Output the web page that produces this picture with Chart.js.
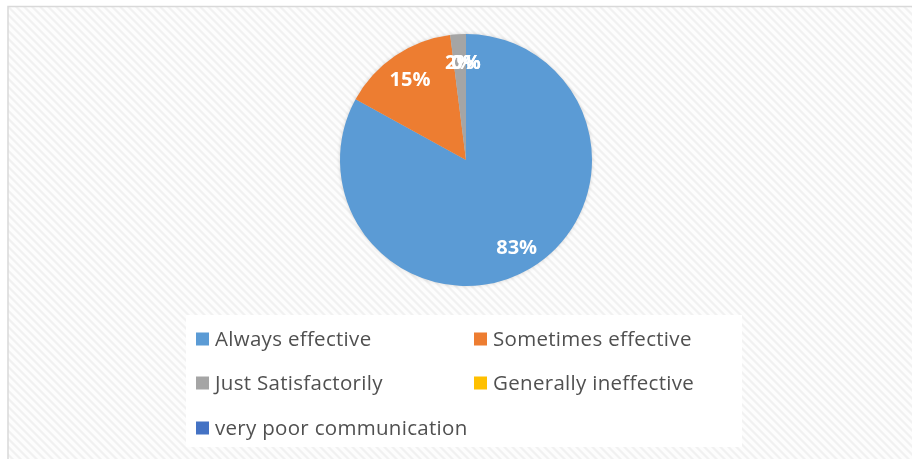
<!DOCTYPE html>
<html><head><meta charset="utf-8">
<script src="https://cdn.jsdelivr.net/npm/chart.js@4.4.0/dist/chart.umd.min.js"></script>
<style>html,body{margin:0;padding:0;background:#fff;overflow:hidden}#wrap{width:912px;height:459px;position:relative}</style>
</head><body><div id="wrap"><canvas id="c" width="912" height="459"></canvas></div>
<script>
const categories = ['Always effective', 'Sometimes effective', 'Just Satisfactorily', 'Generally ineffective', 'very poor communication'];
const values = [83, 15, 2, 0, 0];
const colors = ['#5B9BD5', '#ED7D31', '#A5A5A5', '#FFC000', '#4472C4'];

function makePattern(ctx) {
  const p = document.createElement('canvas');
  p.width = 8; p.height = 8;
  const pc = p.getContext('2d');
  pc.fillStyle = '#fdfdfd'; pc.fillRect(0, 0, 8, 8);
  for (let y = 0; y < 8; y++) for (let x = 0; x < 8; x++) {
    const k = ((x - y) % 8 + 8) % 8;
    if (k < 4) { pc.fillStyle = (k === 0 || k === 3) ? '#f6f6f6' : '#f1f1f1'; pc.fillRect(x, y, 1, 1); }
  }
  return ctx.createPattern(p, 'repeat');
}

const bgPlugin = {
  id: 'bg',
  beforeDraw(chart) {
    const ctx = chart.ctx;
    ctx.save();
    ctx.fillStyle = '#ffffff';
    ctx.fillRect(0, 0, chart.width, chart.height);
    ctx.fillStyle = makePattern(ctx);
    ctx.fillRect(8, 6, chart.width - 8, chart.height - 6);
    ctx.strokeStyle = '#d9d9d9';
    ctx.lineWidth = 1.5;
    ctx.beginPath();
    ctx.moveTo(8, chart.height + 2); ctx.lineTo(8, 6.5); ctx.lineTo(chart.width + 2, 6.5);
    ctx.stroke();
    ctx.fillStyle = '#ffffff';
    ctx.fillRect(186, 315, 556, 132);
    ctx.restore();
  },
  beforeDatasetsDraw(chart) {
    const arc = chart.getDatasetMeta(0).data[0];
    if (!arc) return;
    const ctx = chart.ctx;
    ctx.save();
    ctx.shadowColor = 'rgba(0,0,0,0.2)';
    ctx.shadowBlur = 4;
    ctx.fillStyle = '#cccccc';
    ctx.beginPath();
    ctx.arc(arc.x, arc.y, arc.outerRadius - 0.5, 0, Math.PI * 2);
    ctx.fill();
    ctx.restore();
  },
  afterDatasetsDraw(chart) {
    const ctx = chart.ctx;
    const data = chart.data.datasets[0].data;
    const total = data.reduce((a, b) => a + b, 0);
    ctx.save();
    ctx.font = 'bold 20px "Open Sans", "DejaVu Sans", sans-serif';
    ctx.fillStyle = '#ffffff';
    ctx.textAlign = 'center';
    ctx.textBaseline = 'middle';
    chart.getDatasetMeta(0).data.forEach((arc, i) => {
      const mid = (arc.startAngle + arc.endAngle) / 2;
      const r = arc.outerRadius * 0.79;
      const x = arc.x + Math.cos(mid) * r;
      const y = arc.y + Math.sin(mid) * r + 2.5;
      ctx.fillText(Math.round(data[i] / total * 100) + '%', x, y);
    });
    ctx.restore();
  },
  afterDraw(chart) {
    const ctx = chart.ctx;
    const colX = [196, 474];
    const rowY = [339, 383, 428];
    ctx.save();
    ctx.font = '20.5px "Open Sans", "DejaVu Sans", sans-serif';
    if ('letterSpacing' in ctx) ctx.letterSpacing = '0.3px';
    ctx.textBaseline = 'middle';
    ctx.textAlign = 'left';
    chart.data.labels.forEach((lab, i) => {
      const x = colX[i % 2];
      const y = rowY[Math.floor(i / 2)];
      ctx.fillStyle = chart.data.datasets[0].backgroundColor[i];
      ctx.fillRect(x, y - 6.5, 13, 13);
      ctx.fillStyle = '#505050';
      ctx.fillText(lab, x + 19, y + 1);
    });
    ctx.restore();
  }
};

new Chart(document.getElementById('c'), {
  type: 'pie',
  data: {
    labels: categories,
    datasets: [{ data: values, backgroundColor: colors, borderWidth: 0 }]
  },
  options: {
    responsive: false,
    animation: false,
    layout: { padding: { top: 34, bottom: 173, left: 340, right: 320 } },
    plugins: { legend: { display: false }, tooltip: { enabled: false } }
  },
  plugins: [bgPlugin]
});
</script>
</body></html>
